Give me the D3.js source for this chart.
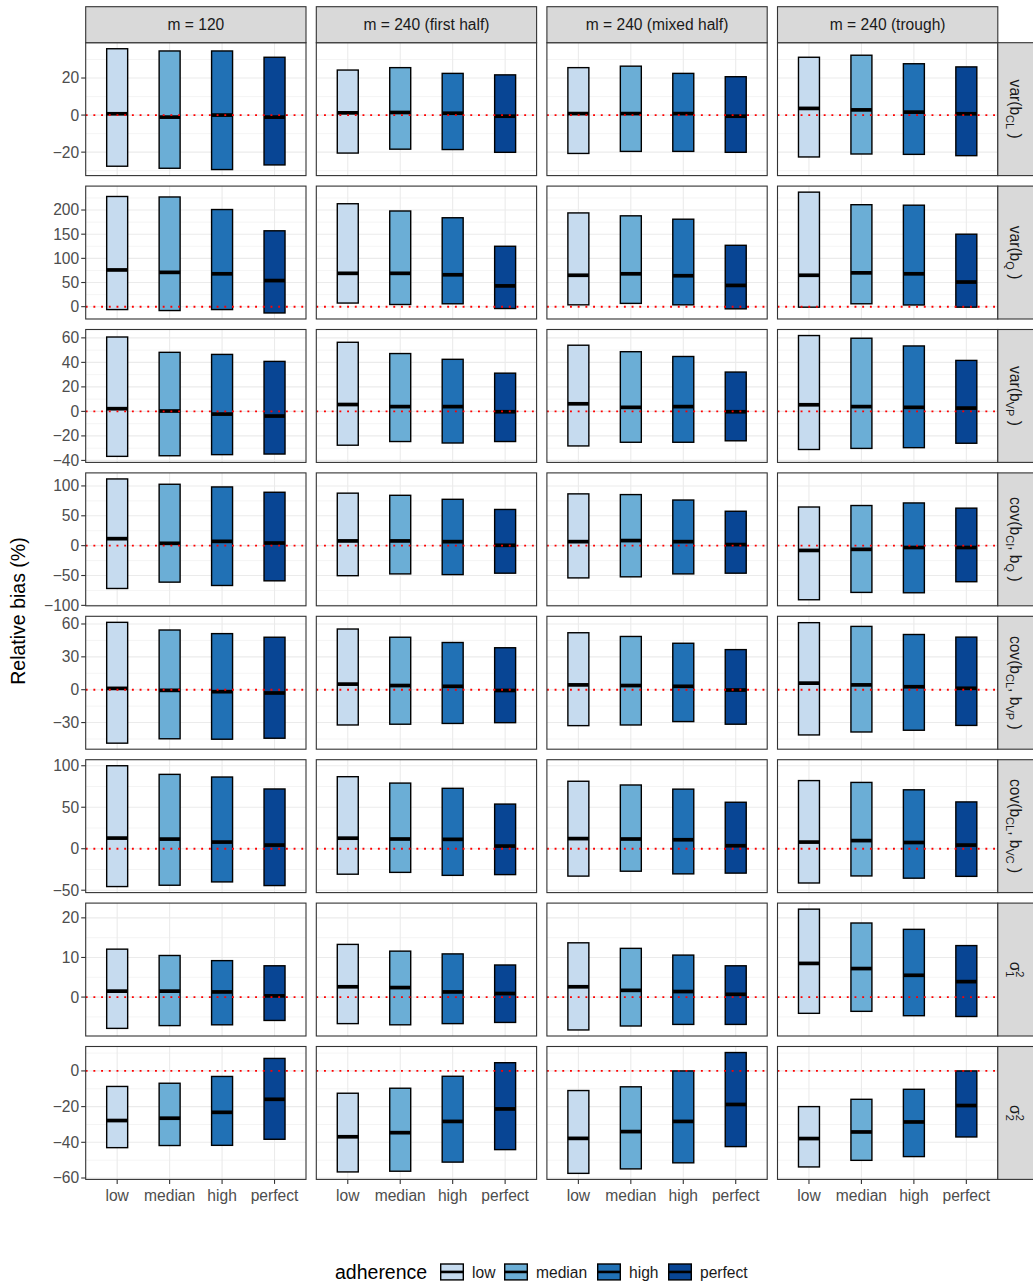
<!DOCTYPE html>
<html><head><meta charset="utf-8">
<script src="https://cdn.jsdelivr.net/npm/d3@7"></script>
<style>
body{margin:0;background:#fff}
text{font-family:"Liberation Sans",Arial,Helvetica,sans-serif}
</style>
</head><body>
<svg id="chart" width="1033" height="1286"></svg>
<script>
// ---------------- data ----------------
const facetCols = ["m = 120", "m = 240 (first half)", "m = 240 (mixed half)", "m = 240 (trough)"];
const adherence = ["low", "median", "high", "perfect"];
const fills = ["#C6DBEF", "#6BAED6", "#2171B5", "#084594"];

// each row: 4 columns x 4 adherence levels, [lower, middle, upper] relative bias (%)
const varCL = [
  [[-27.6, 0.7, 35.8], [-28.7, -1.1, 34.6], [-29.4, 0.0, 34.6], [-26.9, -1.1, 31.2]],
  [[-20.5, 1.2, 24.3], [-18.4, 1.4, 25.6], [-18.6, 1.0, 22.5], [-20.1, -0.6, 21.7]],
  [[-20.7, 0.8, 25.6], [-19.6, 0.8, 26.4], [-19.6, 0.8, 22.5], [-20.1, -0.6, 20.7]],
  [[-22.6, 3.6, 31.2], [-21.0, 2.8, 32.3], [-21.2, 1.6, 27.7], [-21.9, 0.7, 26.0]]
];
const varQ = [
  [[-6, 76, 228], [-8, 71, 227], [-6, 68, 201], [-13, 54, 157]],
  [[7.5, 69, 213], [4.5, 69, 198], [6, 66, 184], [-3.8, 43, 125]],
  [[3.8, 65, 194], [6.8, 68, 188], [3.8, 64, 181], [-4.5, 44, 127]],
  [[-1, 65, 237], [6, 70, 211], [3.5, 68, 210], [-1, 51, 150]]
];
const varVP = [
  [[-36.7, 2.2, 60.7], [-36.2, 0.3, 48.2], [-35.3, -2.2, 46.5], [-34.8, -3.8, 40.8]],
  [[-27.6, 5.6, 56.4], [-24.6, 3.9, 47.2], [-25.8, 3.9, 42.5], [-24.6, -0.3, 31.2]],
  [[-28.2, 6.2, 54.0], [-25.2, 3.3, 48.7], [-25.2, 3.9, 44.8], [-24.0, -0.3, 32.1]],
  [[-31.1, 5.4, 61.9], [-30.2, 3.9, 59.7], [-29.6, 3.3, 53.4], [-26.0, 2.7, 41.6]]
];
const covCIQ = [
  [[-71.7, 11.7, 111.7], [-61.1, 3.9, 102.8], [-66.7, 7.2, 98.3], [-58.9, 4.4, 89.4]],
  [[-50.3, 7.9, 87.9], [-47.3, 7.9, 84.3], [-48.5, 6.7, 77.6], [-46.1, 0.6, 60.6]],
  [[-54.0, 6.7, 86.7], [-52.2, 8.5, 85.5], [-47.3, 6.7, 76.4], [-46.1, 1.8, 57.6]],
  [[-90.6, -8.0, 64.7], [-78.3, -6.2, 67.2], [-78.9, -3.1, 71.5], [-60.4, -3.1, 62.8]]
];
const covCLVP = [
  [[-48.8, 1.2, 61.5], [-44.8, -0.6, 54.5], [-45.2, -1.8, 51.2], [-44.3, -3.0, 47.9]],
  [[-32.2, 5.1, 55.4], [-31.5, 3.8, 47.9], [-30.8, 3.1, 43.1], [-30.1, -0.7, 38.3]],
  [[-32.8, 4.4, 52.0], [-32.2, 3.8, 48.6], [-29.1, 3.1, 42.4], [-31.5, -0.3, 36.6]],
  [[-41.3, 6.0, 61.2], [-38.6, 4.4, 57.8], [-37.0, 2.7, 50.4], [-32.6, 1.3, 48.0]]
];
const covCLVC = [
  [[-45.6, 12.8, 100.0], [-44.0, 11.6, 89.6], [-40.0, 8.0, 86.4], [-44.4, 4.4, 72.0]],
  [[-30.7, 12.7, 86.8], [-28.5, 11.7, 79.1], [-32.1, 11.3, 72.8], [-31.2, 3.2, 53.8]],
  [[-33.0, 12.2, 81.3], [-27.1, 11.7, 76.8], [-30.3, 10.8, 71.8], [-29.4, 3.6, 56.0]],
  [[-41.3, 8.0, 82.1], [-32.8, 9.8, 79.9], [-35.5, 7.5, 71.0], [-33.3, 4.4, 56.4]]
];
const sigma1 = [
  [[-7.9, 1.5, 12.1], [-7.2, 1.5, 10.5], [-7.0, 1.3, 9.2], [-5.9, 0.3, 7.9]],
  [[-6.7, 2.6, 13.3], [-7.0, 2.4, 11.6], [-6.7, 1.3, 10.9], [-6.4, 0.9, 8.1]],
  [[-8.3, 2.6, 13.7], [-7.3, 1.7, 12.3], [-6.9, 1.4, 10.6], [-6.9, 0.7, 7.9]],
  [[-4.1, 8.5, 22.2], [-3.6, 7.2, 18.7], [-4.7, 5.5, 17.1], [-4.9, 3.9, 13.0]]
];
const sigma2 = [
  [[-43.0, -27.8, -8.7], [-41.8, -26.5, -6.9], [-41.7, -23.2, -3.1], [-38.3, -15.9, 7.0]],
  [[-56.6, -36.9, -12.5], [-56.2, -34.6, -9.7], [-51.1, -28.3, -3.0], [-44.1, -21.3, 4.6]],
  [[-57.4, -37.8, -11.0], [-54.9, -34.0, -8.9], [-51.5, -28.3, 0.0], [-42.4, -18.8, 10.3]],
  [[-53.8, -37.9, -20.0], [-50.1, -34.2, -15.9], [-48.0, -28.6, -10.3], [-37.0, -19.4, 0.0]]
];

const rowData = [varCL, varQ, varVP, covCIQ, covCLVP, covCLVC, sigma1, sigma2];
const rowTicks = [
  [-20, 0, 20],
  [0, 50, 100, 150, 200],
  [-40, -20, 0, 20, 40, 60],
  [-100, -50, 0, 50, 100],
  [-30, 0, 30, 60],
  [-50, 0, 50, 100],
  [0, 10, 20],
  [-60, -40, -20, 0]
];
// strip labels: segments [text, kind]
const rowLabels = [
  [["var(b", ""], ["CL", "sub"], [" )", ""]],
  [["var(b", ""], ["Q", "sub"], [" )", ""]],
  [["var(b", ""], ["VP", "sub"], [" )", ""]],
  [["cov(b", ""], ["CI", "sub"], [", b", ""], ["Q", "sub"], [" )", ""]],
  [["cov(b", ""], ["CL", "sub"], [", b", ""], ["VP", "sub"], [" )", ""]],
  [["cov(b", ""], ["CL", "sub"], [", b", ""], ["VC", "sub"], [" )", ""]],
  [["σ", ""], ["2", "sup"], ["1", "stacksub"]],
  [["σ", ""], ["2", "sup"], ["2", "stacksub"]]
];

// ---------------- layout ----------------
const svg = d3.select("#chart");
const leftX = 85.7, pw = 220.3, gapX = 10.3;
const topY = 42.7, ph = 132.9, gapY = 10.5;
const stripH = 36;
const nRows = rowData.length;
const gridCol = "#EBEBEB", borderCol = "#333333";

const x = d3.scaleBand().domain(adherence).range([0, pw]).paddingInner(0).paddingOuter(0.1);
const barW = x.step() * 0.4;

svg.append("rect").attr("width", 1033).attr("height", 1286).attr("fill", "#fff");

rowData.forEach((rd, r) => {
  const py = topY + r * (ph + gapY);
  const all = rd.flat(2);
  const ext = d3.extent(all);
  const pad = (ext[1] - ext[0]) * 0.05;
  const y = d3.scaleLinear().domain([ext[0] - pad, ext[1] + pad]).range([ph, 0]);
  const ticks = rowTicks[r];
  const step = ticks[1] - ticks[0];
  const minors = [];
  for (let v = Math.ceil(y.domain()[0] / (step / 2)) * (step / 2); v <= y.domain()[1]; v += step / 2) {
    if (!ticks.some(t => Math.abs(t - v) < 1e-9)) minors.push(v);
  }

  facetCols.forEach((fc, c) => {
    const px = leftX + c * (pw + gapX);
    const g = svg.append("g").attr("transform", `translate(${px},${py})`);
    g.append("rect").attr("width", pw).attr("height", ph).attr("fill", "#fff");
    g.selectAll(".mn").data(minors).join("line")
      .attr("x1", 0).attr("x2", pw).attr("y1", d => y(d)).attr("y2", d => y(d))
      .attr("stroke", gridCol).attr("stroke-width", 0.55);
    g.selectAll(".mj").data(ticks).join("line")
      .attr("x1", 0).attr("x2", pw).attr("y1", d => y(d)).attr("y2", d => y(d))
      .attr("stroke", gridCol).attr("stroke-width", 1.1);
    g.selectAll(".vx").data(adherence).join("line")
      .attr("x1", d => x(d) + x.bandwidth() / 2).attr("x2", d => x(d) + x.bandwidth() / 2)
      .attr("y1", 0).attr("y2", ph)
      .attr("stroke", gridCol).attr("stroke-width", 1.1);
    const bars = rd[c].map((v, i) => ({ a: adherence[i], lo: v[0], mid: v[1], hi: v[2], fill: fills[i] }));
    g.selectAll(".bx").data(bars).join("rect")
      .attr("x", d => x(d.a) + x.bandwidth() / 2 - barW / 2)
      .attr("width", barW)
      .attr("y", d => y(d.hi))
      .attr("height", d => y(d.lo) - y(d.hi))
      .attr("fill", d => d.fill).attr("stroke", "#000").attr("stroke-width", 1.4);
    g.selectAll(".md").data(bars).join("line")
      .attr("x1", d => x(d.a) + x.bandwidth() / 2 - barW / 2)
      .attr("x2", d => x(d.a) + x.bandwidth() / 2 + barW / 2)
      .attr("y1", d => y(d.mid)).attr("y2", d => y(d.mid))
      .attr("stroke", "#000").attr("stroke-width", 3.7);
    g.append("line").attr("x1", 0).attr("x2", pw).attr("y1", y(0)).attr("y2", y(0))
      .attr("stroke", "red").attr("stroke-width", 1.9).attr("stroke-dasharray", "1.9,5.8");
    g.append("rect").attr("width", pw).attr("height", ph).attr("fill", "none")
      .attr("stroke", borderCol).attr("stroke-width", 1.1);

    if (c === 0) {
      const ax = g.append("g");
      ax.selectAll("line").data(ticks).join("line")
        .attr("x1", -4.5).attr("x2", 0).attr("y1", d => y(d)).attr("y2", d => y(d))
        .attr("stroke", borderCol).attr("stroke-width", 1.1);
      ax.selectAll("text").data(ticks).join("text")
        .attr("x", -6.5).attr("y", d => y(d)).attr("dy", "0.35em")
        .attr("text-anchor", "end").attr("font-size", 15.6).attr("fill", "#4D4D4D")
        .text(d => d3.format("d")(d));
    }
    if (r === nRows - 1) {
      const ax = g.append("g").attr("transform", `translate(0,${ph})`);
      ax.selectAll("line").data(adherence).join("line")
        .attr("x1", d => x(d) + x.bandwidth() / 2).attr("x2", d => x(d) + x.bandwidth() / 2)
        .attr("y1", 0).attr("y2", 4.5).attr("stroke", borderCol).attr("stroke-width", 1.1);
      ax.selectAll("text").data(adherence).join("text")
        .attr("x", d => x(d) + x.bandwidth() / 2).attr("y", 21.7)
        .attr("text-anchor", "middle").attr("font-size", 15.6).attr("fill", "#4D4D4D")
        .text(d => d);
    }
    if (r === 0) {
      const s = svg.append("g").attr("transform", `translate(${px},${topY - stripH})`);
      s.append("rect").attr("width", pw).attr("height", stripH).attr("fill", "#D9D9D9")
        .attr("stroke", borderCol).attr("stroke-width", 1.1);
      s.append("text").attr("x", pw / 2).attr("y", stripH / 2).attr("dy", "0.35em")
        .attr("text-anchor", "middle").attr("font-size", 15.6).attr("fill", "#1A1A1A").text(fc);
    }
  });

  const sx = leftX + 4 * pw + 3 * gapX;
  const s = svg.append("g").attr("transform", `translate(${sx},${py})`);
  s.append("rect").attr("width", stripH).attr("height", ph).attr("fill", "#D9D9D9")
    .attr("stroke", borderCol).attr("stroke-width", 1.1);
  const t = s.append("text")
    .attr("transform", `translate(${stripH / 2 - 5.5},${ph / 2}) rotate(90)`)
    .attr("text-anchor", "middle").attr("font-size", 15.6).attr("fill", "#1A1A1A");
  let shift = 0;
  rowLabels[r].forEach(([txt, kind]) => {
    const sp = t.append("tspan").text(txt);
    if (kind === "sub") {
      sp.attr("font-size", 11).attr("dy", 4 - shift); shift = 4;
    } else if (kind === "sup") {
      sp.attr("font-size", 11).attr("dy", -6 - shift); shift = -6;
    } else if (kind === "stacksub") {
      sp.attr("font-size", 11).attr("dx", -6.1).attr("dy", 4 - shift); shift = 4;
    } else {
      sp.attr("dy", -shift); shift = 0;
    }
  });
});

svg.append("text")
  .attr("transform", `translate(24.5,${(topY + topY + nRows * ph + (nRows - 1) * gapY) / 2}) rotate(-90)`)
  .attr("text-anchor", "middle").attr("font-size", 19.5).attr("fill", "#000")
  .text("Relative bias (%)");

const lg = svg.append("g").attr("transform", "translate(0,1263.3)");
lg.append("text").attr("x", 335).attr("y", 15.8).attr("font-size", 19.5).attr("fill", "#000").text("adherence");
const keyX = [440, 504, 597, 668];
adherence.forEach((a, i) => {
  const k = lg.append("g").attr("transform", `translate(${keyX[i]},0)`);
  k.append("rect").attr("x", 0.7).attr("y", 0.7).attr("width", 22.6).attr("height", 15.9)
    .attr("fill", fills[i]).attr("stroke", "#000").attr("stroke-width", 1.4);
  k.append("line").attr("x1", 0.7).attr("x2", 23.3).attr("y1", 8.65).attr("y2", 8.65)
    .attr("stroke", "#000").attr("stroke-width", 2.6);
  k.append("text").attr("x", 32).attr("y", 14.7).attr("font-size", 15.6).attr("fill", "#1A1A1A").text(a);
});
</script>
</body></html>
